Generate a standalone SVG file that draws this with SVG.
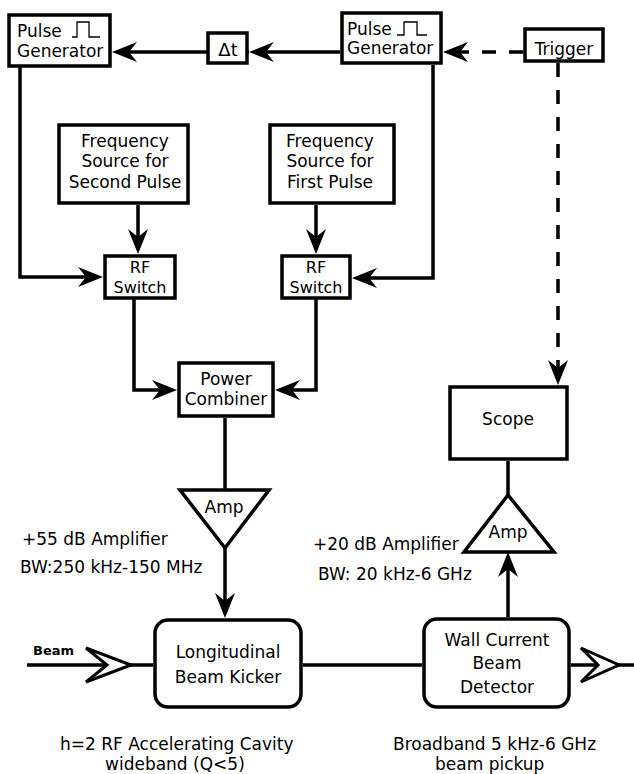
<svg xmlns="http://www.w3.org/2000/svg" width="634" height="774" viewBox="0 0 634 774">
<style>
.box{fill:#fff;stroke:#000;stroke-width:3.5}
.ln{fill:none;stroke:#000;stroke-width:3.5;stroke-linejoin:miter}
.dash{stroke-dasharray:14 13}
.t{font-family:"DejaVu Sans",sans-serif;font-size:17px;fill:#000}
.s{font-size:16px}
.c{text-anchor:middle}
.pulse{fill:none;stroke:#000;stroke-width:1.3}
.chev{fill:#fff;stroke:#000;stroke-width:3;stroke-linejoin:miter}
</style>
<defs>
<marker id="ah" viewBox="-16 -11 27 22" refX="0" refY="0" markerWidth="27" markerHeight="22" markerUnits="userSpaceOnUse" orient="auto">
<path d="M10,0 L-15,-10 L-7,0 L-15,10 Z" fill="#000"/>
</marker>
</defs>

<g id="connectors">
<path class="ln" d="M249,52 H122" marker-end="url(#ah)"/>
<path class="ln" d="M340,52 H259" marker-end="url(#ah)"/>
<path class="ln dash" d="M523,52 H453" marker-end="url(#ah)"/>
<path class="ln" d="M20,67 V277 H93" marker-end="url(#ah)"/>
<path class="ln" d="M433,65 V278 H362" marker-end="url(#ah)"/>
<path class="ln" d="M138,205 V244" marker-end="url(#ah)"/>
<path class="ln" d="M316,205 V244" marker-end="url(#ah)"/>
<path class="ln" d="M134,299 V390 H167" marker-end="url(#ah)"/>
<path class="ln" d="M316,299 V390 H285" marker-end="url(#ah)"/>
<path class="ln dash" d="M558,63 V375" marker-end="url(#ah)"/>
<path class="ln" d="M225,418 V490"/>
<path class="ln" d="M225,548 V608" marker-end="url(#ah)"/>
<path class="ln" d="M508,461 V495"/>
<path class="ln" d="M508,617 V562" marker-end="url(#ah)"/>
<path class="ln" d="M27,665 H153"/>
<path class="ln" d="M303,665 H422"/>
<path class="ln" d="M571,665 H634"/>
<path class="chev" d="M86,648 L131,665 L86,682 L107,665 Z"/>
<path class="chev" d="M581,648 L619,665 L581,682 L598,665 Z"/>
</g>

<g id="pulse-gen-2">
<rect class="box" x="9" y="15" width="101" height="51"/>
<text class="t" x="17" y="37">Pulse</text>
<text class="t" x="17" y="57">Generator</text>
<path class="pulse" d="M72,37 H77 V22 H89 V37 H100"/>
</g>

<g id="delay">
<rect class="box" x="208" y="33" width="39" height="30"/>
<text class="t c" x="228" y="56" style="font-size:18px">Δt</text>
</g>

<g id="pulse-gen-1">
<rect class="box" x="342" y="13" width="99" height="50"/>
<text class="t" x="347" y="35">Pulse</text>
<text class="t" x="347" y="54">Generator</text>
<path class="pulse" d="M397,35 H404 V22 H417 V35 H427"/>
</g>

<g id="trigger">
<rect class="box" x="525" y="29" width="78" height="32"/>
<text class="t c" x="564" y="55">Trigger</text>
</g>

<g id="freq-second">
<rect class="box" x="59" y="125" width="129" height="78"/>
<text class="t c" x="125" y="147">Frequency</text>
<text class="t c" x="125" y="167">Source for</text>
<text class="t c" x="125" y="188">Second Pulse</text>
</g>

<g id="freq-first">
<rect class="box" x="270" y="125" width="124" height="78"/>
<text class="t c" x="330" y="147">Frequency</text>
<text class="t c" x="330" y="167">Source for</text>
<text class="t c" x="330" y="188">First Pulse</text>
</g>

<g id="rf-switch-2">
<rect class="box" x="105" y="256" width="70" height="42"/>
<text class="t s c" x="140" y="273">RF</text>
<text class="t s c" x="140" y="293">Switch</text>
</g>

<g id="rf-switch-1">
<rect class="box" x="282" y="256" width="68" height="42"/>
<text class="t s c" x="316" y="273">RF</text>
<text class="t s c" x="316" y="293">Switch</text>
</g>

<g id="combiner">
<rect class="box" x="179" y="363" width="94" height="53"/>
<text class="t c" x="226" y="385">Power</text>
<text class="t c" x="226" y="405">Combiner</text>
</g>

<g id="scope">
<rect class="box" x="450" y="387" width="117" height="72"/>
<text class="t c" x="508" y="425">Scope</text>
</g>

<g id="amp-55">
<path class="box" d="M180,490 H269 L225,548 Z"/>
<text class="t c" x="224" y="513">Amp</text>
<text class="t" x="22" y="545">+55 dB Amplifier</text>
<text class="t" x="20" y="573">BW:250 kHz-150 MHz</text>
</g>

<g id="amp-20">
<path class="box" d="M464,552 H554 L508,495 Z"/>
<text class="t c" x="508" y="538">Amp</text>
<text class="t" x="313" y="550">+20 dB Amplifier</text>
<text class="t" x="318" y="580">BW: 20 kHz-6 GHz</text>
</g>

<g id="kicker">
<rect class="box" x="155" y="620" width="146" height="87" rx="13"/>
<text class="t c" x="228" y="658">Longitudinal</text>
<text class="t c" x="228" y="683">Beam Kicker</text>
<text class="t" x="60" y="750">h=2 RF Accelerating Cavity</text>
<text class="t" x="105" y="770">wideband (Q&lt;5)</text>
</g>

<g id="wall-current">
<rect class="box" x="424" y="619" width="145" height="88" rx="13"/>
<text class="t c" x="497" y="646">Wall Current</text>
<text class="t c" x="497" y="669">Beam</text>
<text class="t c" x="497" y="693">Detector</text>
<text class="t" x="393" y="750">Broadband 5 kHz-6 GHz</text>
<text class="t" x="435" y="770">beam pickup</text>
</g>

<g id="beam-label">
<text class="t" x="33" y="655" style="font-size:13px;font-weight:bold">Beam</text>
</g>
</svg>
